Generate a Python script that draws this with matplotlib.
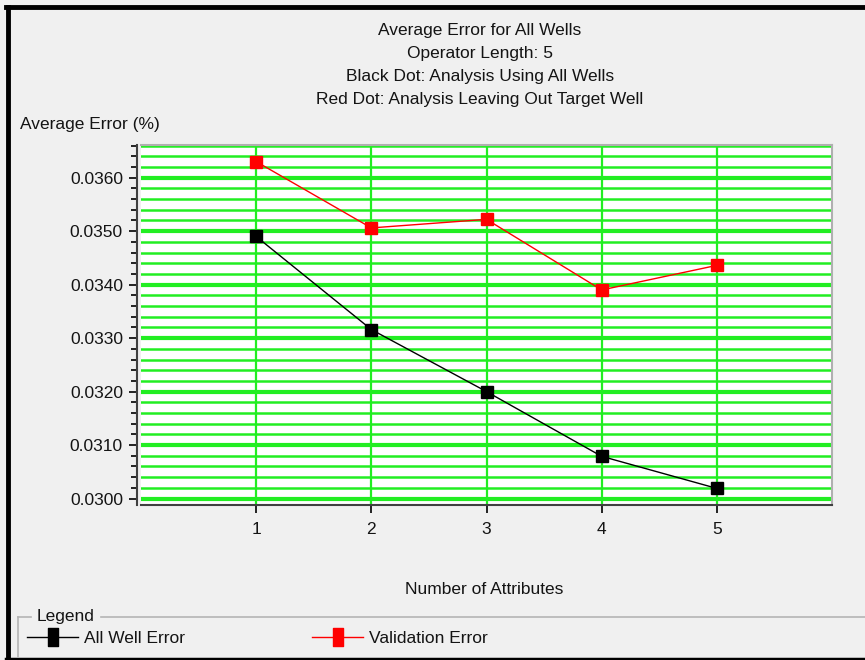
import numpy as np
import matplotlib.pyplot as plt
from matplotlib.lines import Line2D
from matplotlib.path import Path
from matplotlib.legend_handler import HandlerLine2D
from matplotlib.ticker import MultipleLocator, FormatStrFormatter

plt.rcParams['font.family'] = ['Liberation Sans', 'DejaVu Sans']

# Average error per number of attributes
attributes = [1, 2, 3, 4, 5]
all_well_error = [0.03490, 0.03316, 0.03200, 0.03079, 0.03019]
validation_error = [0.03630, 0.03506, 0.03522, 0.03390, 0.03436]

title_lines = ['Average Error for All Wells',
               'Operator Length: 5',
               'Black Dot: Analysis Using All Wells',
               'Red Dot: Analysis Leaving Out Target Well']

W, H = 865, 660
bg = '#f0f0f0'
green = '#22ee22'
txt = '#141414'
fs = 12.5

fig = plt.figure(figsize=(W / 100, H / 100), dpi=100, facecolor=bg)

def fx(px):
    return px / W

def fy(py):
    return 1 - py / H

# Window frame
fig.add_artist(Line2D([fx(8), fx(8)], [fy(7), fy(660)], color='black', lw=3.5))
fig.add_artist(Line2D([fx(6), fx(865)], [fy(7), fy(7)], color='black', lw=3.5))
fig.add_artist(Line2D([fx(6), fx(865)], [fy(659), fy(659)], color='black', lw=2.5))

ax = fig.add_axes([fx(141), fy(505), fx(832 - 141), (505 - 145) / H])
ax.set_facecolor('white')

l1, = ax.plot(attributes, all_well_error, color='black', lw=1, marker='s', ms=8.5,
              label='All Well Error', zorder=5)
l2, = ax.plot(attributes, validation_error, color='red', lw=1, marker='s', ms=8.5,
              label='Validation Error', zorder=5)

ax.set_xlim(0, 6)
ax.set_ylim(0.02988, 0.03661)
ax.set_xticks(attributes)
ax.yaxis.set_major_locator(MultipleLocator(0.001))
ax.yaxis.set_minor_locator(MultipleLocator(0.0002))
ax.yaxis.set_major_formatter(FormatStrFormatter('%.4f'))

ax.grid(True, axis='x', which='major', color=green, lw=1.6)
ax.grid(True, axis='y', which='major', color=green, lw=3)
ax.grid(True, axis='y', which='minor', color=green, lw=1.8)
ax.set_axisbelow(True)

ax.tick_params(axis='y', which='major', direction='out', length=6, width=1.2,
               labelsize=fs, labelcolor=txt, pad=4)
ax.tick_params(axis='y', which='minor', direction='out', length=4, width=1.2)
ax.tick_params(axis='x', direction='out', length=6, width=1.2,
               labelsize=fs, labelcolor=txt, pad=6)

for side in ['top', 'right']:
    ax.spines[side].set_color('#b0b0b0')
    ax.spines[side].set_linewidth(1.5)
ax.spines['left'].set_color('#404040')
ax.spines['bottom'].set_color('#404040')
ax.spines['left'].set_linewidth(1.5)
ax.spines['bottom'].set_linewidth(1.5)
ax.spines['left'].set_position(('outward', 3))

# Titles and axis labels
for i, line in enumerate(title_lines):
    fig.text(fx(480), fy(31 + i * 22.7), line, ha='center', va='center',
             fontsize=fs, color=txt)
fig.text(fx(20), fy(124), 'Average Error (%)', ha='left', va='center',
         fontsize=fs, color=txt)
fig.text(fx(484), fy(590), 'Number of Attributes', ha='center', va='center',
         fontsize=fs, color=txt)

# Legend group box
box = '#b4b4b4'
fig.add_artist(Line2D([fx(18), fx(31)], [fy(617), fy(617)], color=box, lw=1.2))
fig.add_artist(Line2D([fx(101), fx(865)], [fy(617), fy(617)], color=box, lw=1.2))
fig.add_artist(Line2D([fx(18), fx(18)], [fy(617), fy(657)], color=box, lw=1.2))
fig.text(fx(37), fy(617), 'Legend', ha='left', va='center', fontsize=fs, color=txt)

# tall bar marker used in the legend keys
bar = Path([(-0.28, -0.5), (0.28, -0.5), (0.28, 0.5), (-0.28, 0.5), (-0.28, -0.5)],
           [Path.MOVETO, Path.LINETO, Path.LINETO, Path.LINETO, Path.CLOSEPOLY])

def legend_marker(handle, orig):
    handle.update_from(orig)
    handle.set_marker(bar)
    handle.set_markersize(13.5)

for line, x0 in [(l1, 27), (l2, 312)]:
    fig.legend(handles=[line], loc='center left', bbox_to_anchor=(fx(x0), fy(638)),
               frameon=False, fontsize=fs, handlelength=2.95, handletextpad=0.35,
               borderpad=0, borderaxespad=0, labelcolor=txt,
               handler_map={Line2D: HandlerLine2D(update_func=legend_marker)})

fig.savefig('out.png', dpi=100, facecolor=bg)
